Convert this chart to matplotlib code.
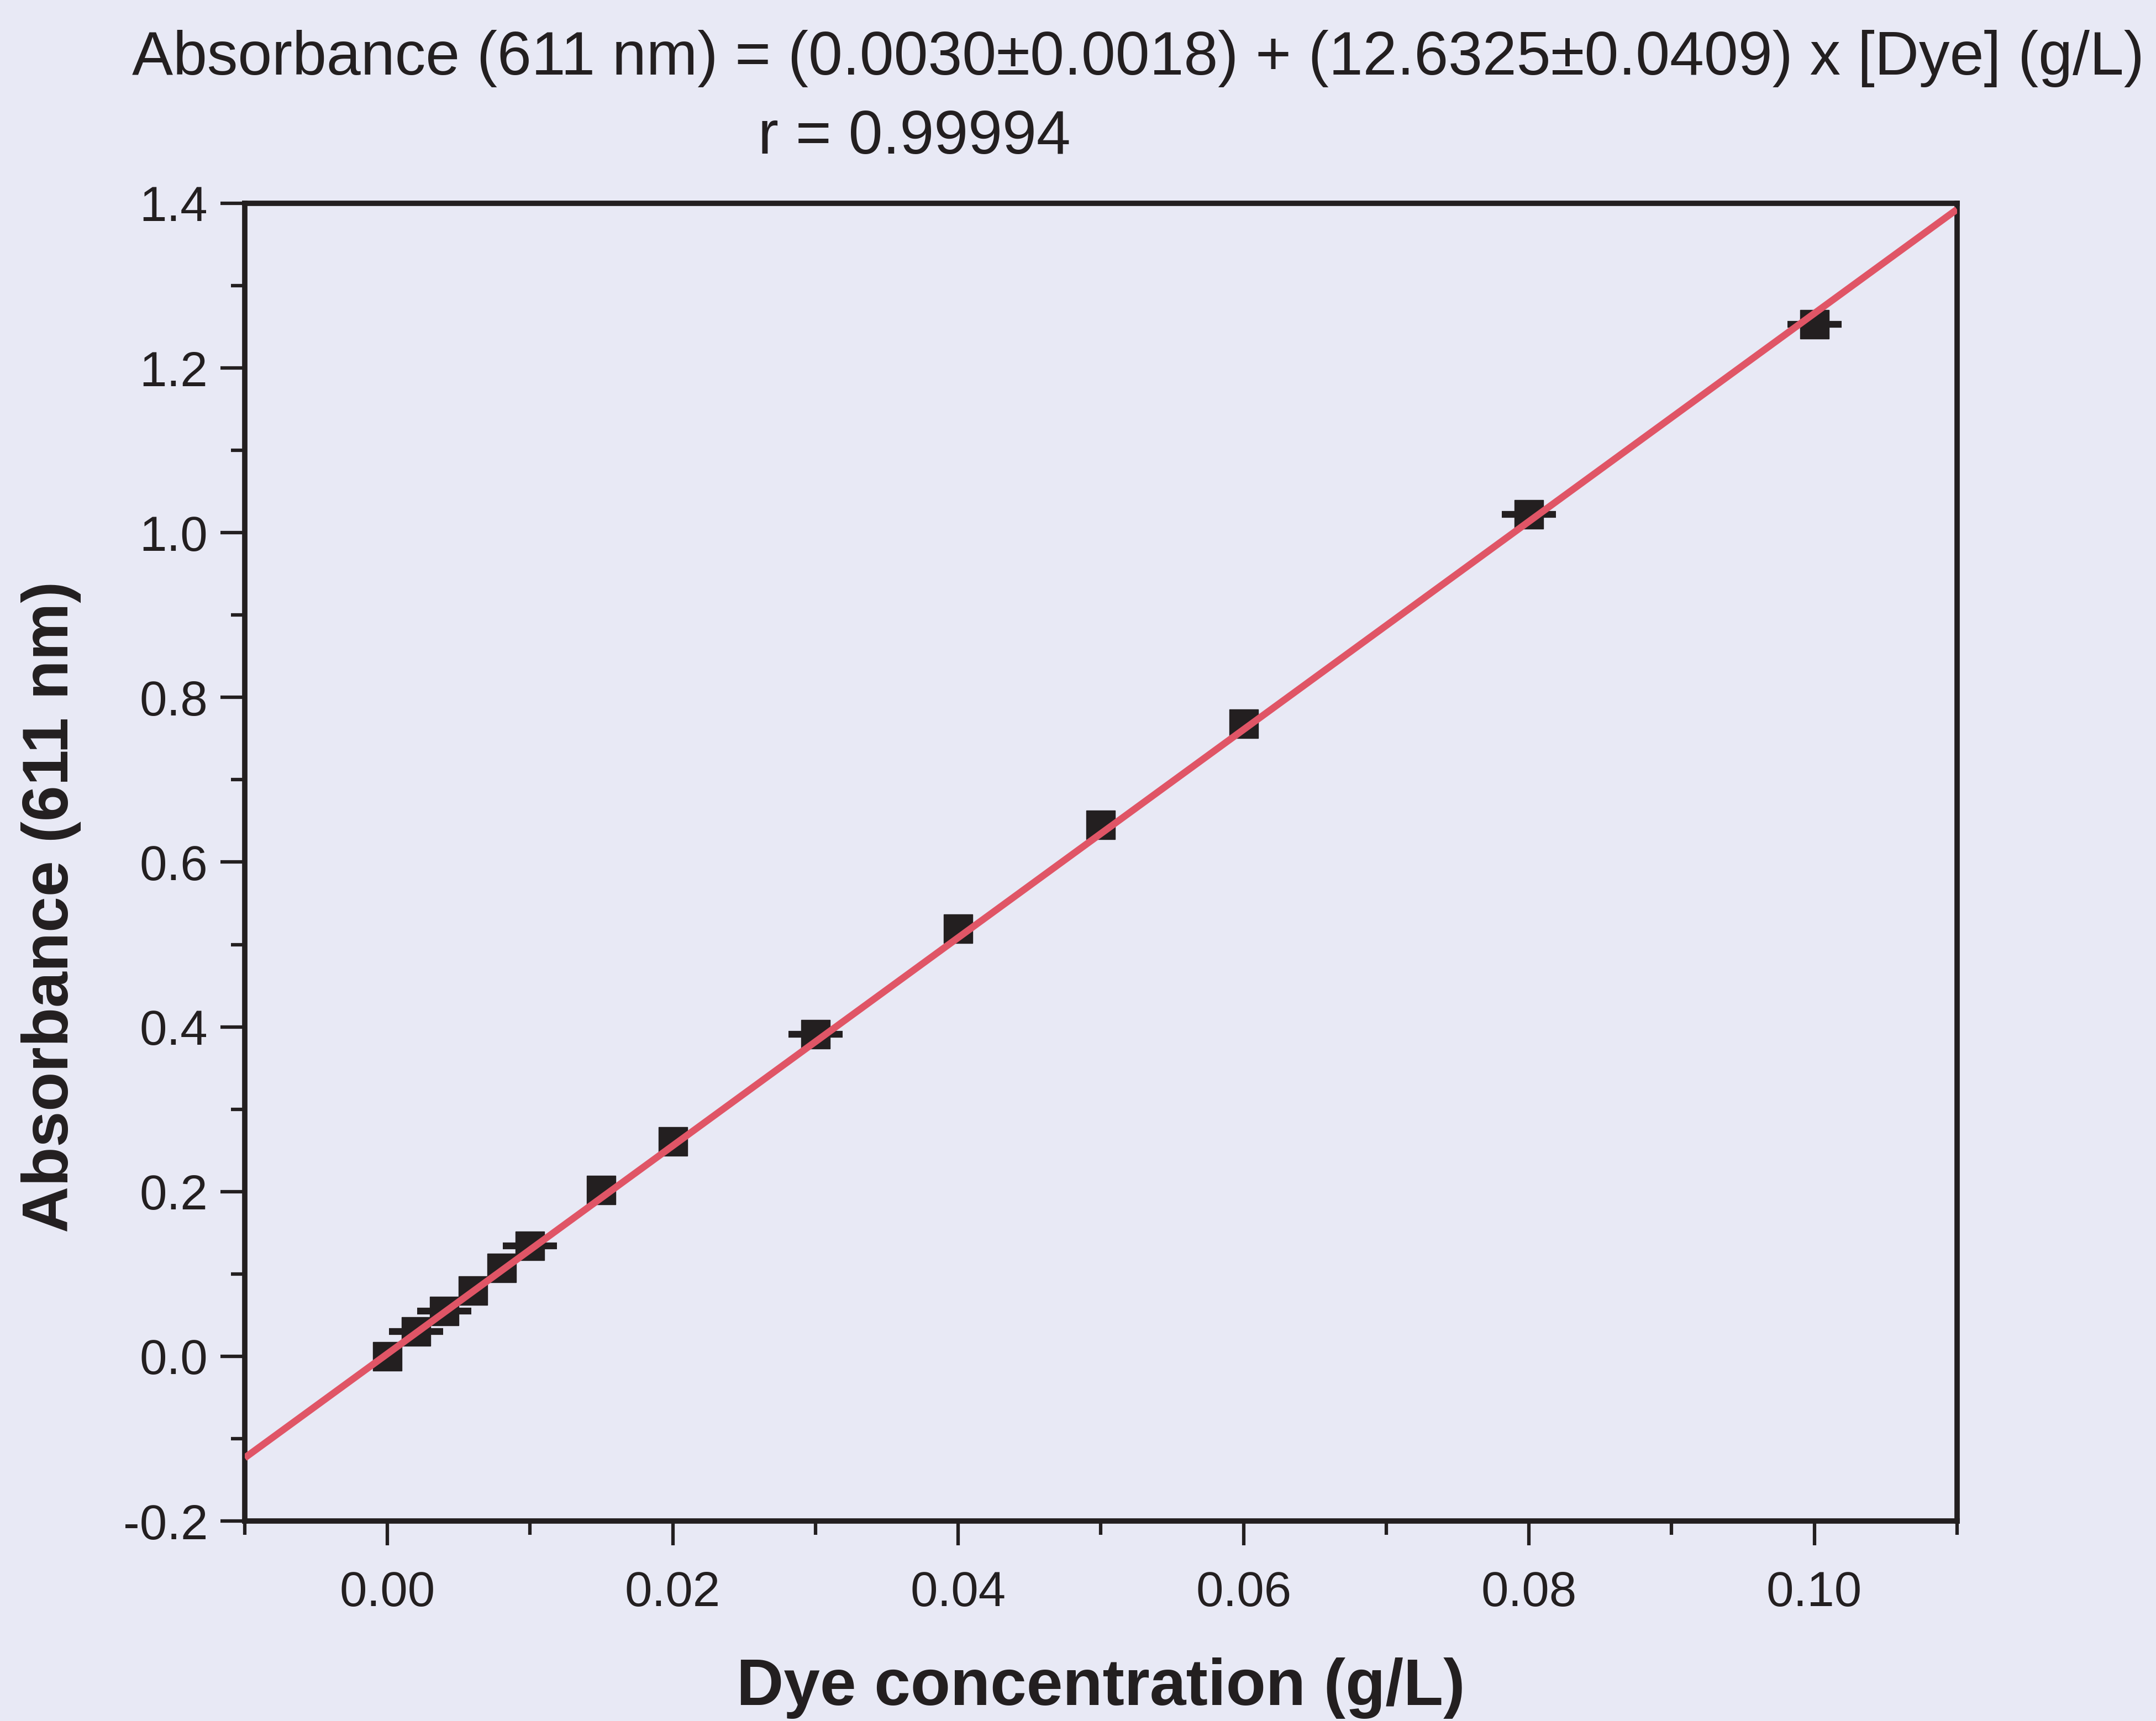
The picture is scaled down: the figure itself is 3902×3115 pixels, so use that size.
import numpy as np
import matplotlib
matplotlib.use('Agg')
import matplotlib.pyplot as plt

# calibration data
conc = [0.000, 0.002, 0.004, 0.006, 0.008, 0.010, 0.015, 0.020,
        0.030, 0.040, 0.050, 0.060, 0.080, 0.100]
absorb = [0.000, 0.030, 0.055, 0.080, 0.107, 0.134, 0.202, 0.261,
          0.391, 0.519, 0.645, 0.768, 1.022, 1.253]
# only some points show an error bar (cap visible past the marker)
err = [0, 0.002, 0.002, 0, 0, 0.002, 0, 0,
       0.002, 0, 0, 0, 0.002, 0.002]

intercept = 0.0030
slope = 12.6325
fit_range = [-0.01, 0.11]

x_ticks = [0.00, 0.02, 0.04, 0.06, 0.08, 0.10]
y_ticks = [-0.2, 0.0, 0.2, 0.4, 0.6, 0.8, 1.0, 1.2, 1.4]

title1 = 'Absorbance (611 nm) = (0.0030\u00b10.0018) + (12.6325\u00b10.0409) x [Dye] (g/L)'
title2 = 'r = 0.99994'

bg = '#e8e9f5'
ink = '#231f20'
red = '#e05566'

plt.rcParams['font.family'] = ['Liberation Sans', 'DejaVu Sans']

fig = plt.figure(figsize=(39.02, 31.15), dpi=100, facecolor=bg)
ax = fig.add_axes([0.1135, 0.1162, 0.7942, 0.7657])
ax.set_facecolor(bg)

x = np.array(conc)
y = np.array(absorb)
e = np.array(err)

ax.plot(x, y, 's', color=ink, ms=37, zorder=3)
m = e > 0
ax.errorbar(x[m], y[m], yerr=e[m], fmt='none', ecolor=ink, elinewidth=4,
            capsize=35, capthick=4.5, zorder=2)

xf = np.array(fit_range)
ax.plot(xf, intercept + slope * xf, color=red, lw=9, zorder=4, solid_capstyle='butt')

ax.set_xlim(fit_range)
ax.set_ylim(-0.2, 1.4)
ax.set_xticks(x_ticks)
ax.set_xticks(np.arange(-0.01, 0.111, 0.01), minor=True)
ax.set_yticks(y_ticks)
ax.set_yticks(np.arange(-0.1, 1.41, 0.2), minor=True)
ax.set_xticklabels(['%.2f' % v for v in x_ticks])
ax.set_yticklabels(['%.1f' % v for v in y_ticks])

for s in ax.spines.values():
    s.set_linewidth(7)
    s.set_color(ink)
ax.tick_params(which='major', direction='out', length=32, width=4.5, color=ink,
               labelsize=64, labelcolor=ink)
ax.tick_params(which='minor', direction='out', length=18, width=4.5, color=ink)
ax.tick_params(axis='x', which='major', pad=32)
ax.tick_params(axis='y', which='major', pad=16)

ax.set_xlabel('Dye concentration (g/L)', fontsize=85, fontweight='bold', color=ink)
ax.xaxis.label.set_va('center')
ax.xaxis.set_label_coords(0.5, -0.127)
ax.set_ylabel('Absorbance (611 nm)', fontsize=84, fontweight='bold', color=ink)
ax.yaxis.label.set_va('center')
ax.yaxis.set_label_coords(-0.113, 0.466)

fig.text(0.528, 0.966, title1, ha='center', va='center', fontsize=80, color=ink)
fig.text(0.424, 0.920, title2, ha='center', va='center', fontsize=80, color=ink)

fig.savefig('out.png', dpi=100, facecolor=bg)
